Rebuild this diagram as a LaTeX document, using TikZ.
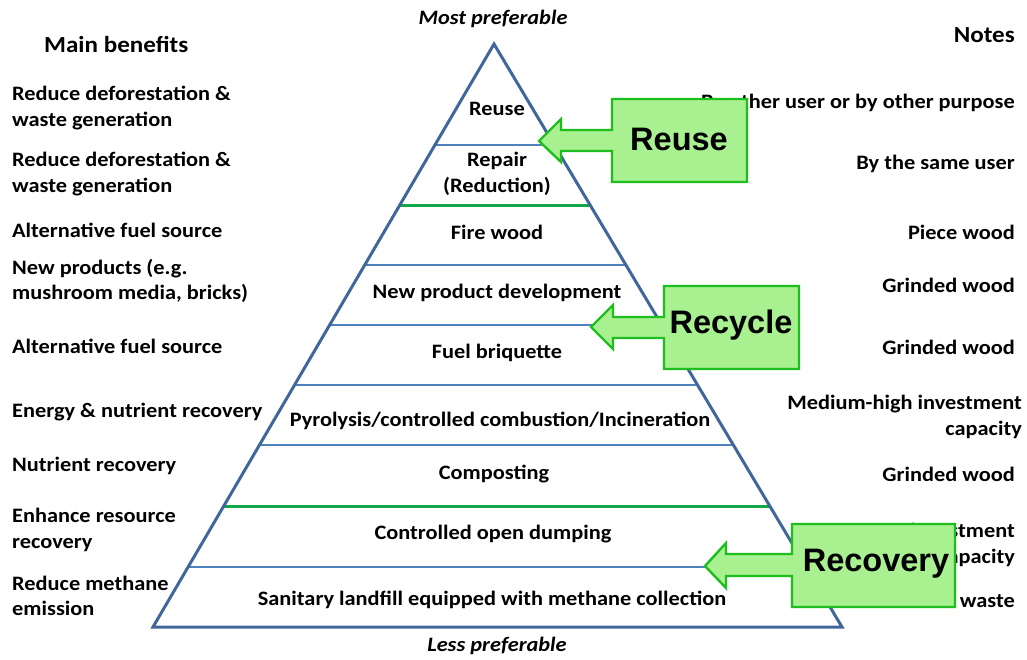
\documentclass[tikz,border=0pt]{standalone}
\usepackage{fontspec}
\setmainfont{Carlito}[FakeStretch=1.09]
\newfontfamily\arialfont{Liberation Sans}
\usetikzlibrary{calc}
\definecolor{pyrblue}{HTML}{41669A}
\definecolor{thinblue}{HTML}{4F81BD}
\definecolor{lvlgreen}{HTML}{12A84A}
\definecolor{boxfill}{HTML}{A8F090}
\definecolor{boxline}{HTML}{1EBE1E}
\tikzset{
  lbl/.style={font=\fontsize{20.5}{25.5}\selectfont\bfseries, inner sep=0pt},
  lefttxt/.style={lbl, anchor=west, align=left},
  righttxt/.style={lbl, anchor=east, align=right},
  midtxt/.style={lbl, align=center},
  hdr/.style={font=\fontsize{23}{26}\selectfont\bfseries, inner sep=0pt},
  thinline/.style={thinblue, line width=1.6pt},
  greenline/.style={lvlgreen, line width=3pt},
  callout/.style={fill=boxfill, draw=boxline, line width=2.4pt, line join=miter},
  calloutxt/.style={font=\arialfont\fontsize{32.5}{36}\selectfont\bfseries, inner sep=0pt}
}
\begin{document}
\begin{tikzpicture}[x=1pt,y=-1pt]
\useasboundingbox (0,0) rectangle (1027,659);
\coordinate (A) at (494,44);
\coordinate (L) at (153,627);
\coordinate (R) at (842,627);
% level lines
\draw[thinline] ($(A)!0.1732!(L)$) -- ($(A)!0.1732!(R)$);
\draw[greenline] ($(A)!0.2762!(L)$) -- ($(A)!0.2762!(R)$);
\draw[thinline] ($(A)!0.3791!(L)$) -- ($(A)!0.3791!(R)$);
\draw[thinline] ($(A)!0.4820!(L)$) -- ($(A)!0.4820!(R)$);
\draw[thinline] ($(A)!0.5849!(L)$) -- ($(A)!0.5849!(R)$);
\draw[thinline] ($(A)!0.6878!(L)$) -- ($(A)!0.6878!(R)$);
\draw[greenline] ($(A)!0.7925!(L)$) -- ($(A)!0.7925!(R)$);
\draw[thinline] ($(A)!0.8971!(L)$) -- ($(A)!0.8971!(R)$);
% pyramid outline
\draw[pyrblue, line width=3pt, line join=miter] (A) -- (L) -- (R) -- cycle;
% top/bottom labels
\node[font=\fontsize{20.5}{24}\selectfont\bfseries\itshape, inner sep=0pt] (most) at (493,19) {Most preferable};
\node[font=\fontsize{20.5}{24}\selectfont\bfseries\itshape, inner sep=0pt] (less) at (497,646) {Less preferable};
% headers
\node[hdr, anchor=west] (hmain) at (44,44) {Main benefits};
\node[hdr, anchor=east] (hnotes) at (1015,35) {Notes};
% pyramid labels
\node[midtxt] (p1) at (497,109) {Reuse};
\node[midtxt] (p2) at (497,174) {Repair\\(Reduction)};
\node[midtxt] (p3) at (497,232) {Fire wood};
\node[midtxt] (p4) at (497,293) {New product development};
\node[midtxt] (p5) at (497,353) {Fuel briquette};
\node[midtxt] (p6) at (500,421) {Pyrolysis/controlled combustion/Incineration};
\node[midtxt] (p7) at (494,474) {Composting};
\node[midtxt] (p8) at (493,534) {Controlled open dumping};
\node[midtxt] (p9) at (492,600) {Sanitary landfill equipped with methane collection};
% left benefits
\node[lefttxt] (b1) at (12,108) {Reduce deforestation \&\\waste generation};
\node[lefttxt] (b2) at (12,174) {Reduce deforestation \&\\waste generation};
\node[lefttxt] (b3) at (12,230) {Alternative fuel source};
\node[lefttxt] (b4) at (12,281) {New products (e.g.\\mushroom media, bricks)};
\node[lefttxt] (b5) at (12,346) {Alternative fuel source};
\node[lefttxt] (b6) at (12,412) {Energy \& nutrient recovery};
\node[lefttxt] (b7) at (12,466) {Nutrient recovery};
\node[lefttxt] (b8) at (12,530) {Enhance resource\\recovery};
\node[lefttxt] (b9) at (12,596) {Reduce methane\\emission};
% right notes
\node[righttxt] (n1) at (1015,103) {By other user or by other purpose};
\node[righttxt] (n2) at (1015,164) {By the same user};
\node[righttxt] (n3) at (1015,232) {Piece wood};
\node[righttxt] (n4) at (1015,285) {Grinded wood};
\node[righttxt] (n5) at (1015,347) {Grinded wood};
\node[righttxt] (n6) at (1022,417) {Medium-high investment\\capacity};
\node[righttxt] (n7) at (1015,474) {Grinded wood};
\node[righttxt] (n8) at (1015,545) {Low investment\\capacity};
\node[righttxt] (n9) at (1015,600) {Mixed waste};
% callouts
\draw[callout] (612,99) -- (747,99) -- (747,182) -- (612,182) -- (612,151) -- (561,151) -- (561,162) -- (539,141) -- (561,119) -- (561,130) -- (612,130) -- cycle;
\node[calloutxt] (c1) at (679,139) {Reuse};
\draw[callout] (664,286) -- (799,286) -- (799,369) -- (664,369) -- (664,338) -- (613,338) -- (613,349) -- (591,327) -- (613,305) -- (613,317) -- (664,317) -- cycle;
\node[calloutxt] (c2) at (731,325) {Recycle};
\draw[callout] (792,524) -- (955,524) -- (955,607) -- (792,607) -- (792,576) -- (726,576) -- (726,588) -- (705,566) -- (726,543) -- (726,554) -- (792,554) -- cycle;
\node[calloutxt] (c3) at (876,564) {Recovery};
\end{tikzpicture}
\end{document}
